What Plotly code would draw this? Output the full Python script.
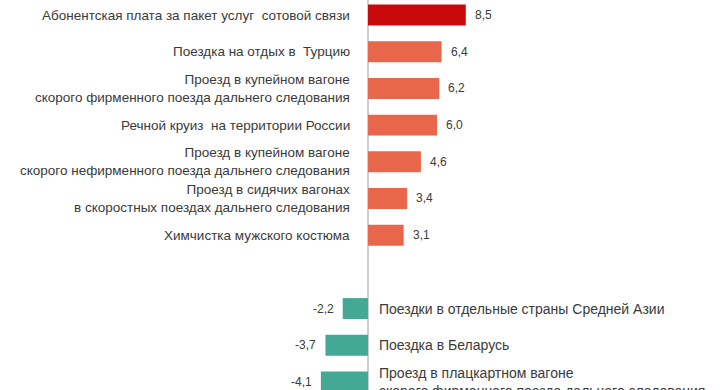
import plotly.graph_objects as go

categories = [
    "Абонентская плата за пакет услуг  сотовой связи",
    "Поездка на отдых в  Турцию",
    "Проезд в купейном вагоне<br>скорого фирменного поезда дальнего следования",
    "Речной круиз  на территории России",
    "Проезд в купейном вагоне<br>скорого нефирменного поезда дальнего следования",
    "Проезд в сидячих вагонах<br>в скоростных поездах дальнего следования",
    "Химчистка мужского костюма",
    " ",
    "Поездки в отдельные страны Средней Азии",
    "Поездка в Беларусь",
    "Проезд в плацкартном вагоне<br>скорого фирменного поезда дальнего следования",
]
values = [8.5, 6.4, 6.2, 6.0, 4.6, 3.4, 3.1, None, -2.2, -3.7, -4.1]

RED = "#C80A0A"
ORANGE = "#E8674A"
TEAL = "#45A894"
TXT = "#3A3A3A"

colors = []
for i, v in enumerate(values):
    if v is None:
        colors.append("rgba(0,0,0,0)")
    elif i == 0:
        colors.append(RED)
    elif v > 0:
        colors.append(ORANGE)
    else:
        colors.append(TEAL)

fig = go.Figure()
fig.add_trace(go.Bar(
    x=values, y=categories, orientation="h",
    marker=dict(color=colors, line=dict(width=0)),
    hoverinfo="skip",
))

annotations = []
for c, v in zip(categories, values):
    if v is None:
        continue
    label = f"{v:.1f}".replace(".", ",")
    if v > 0:
        annotations.append(dict(x=0, y=c, xref="x", yref="y", text=c, showarrow=False,
                                xanchor="right", align="right", xshift=-16,
                                font=dict(size=13.5, color=TXT)))
        annotations.append(dict(x=v, y=c, xref="x", yref="y", text=label, showarrow=False,
                                xanchor="left", xshift=7,
                                font=dict(size=12, color=TXT)))
    else:
        annotations.append(dict(x=0, y=c, xref="x", yref="y", text=c, showarrow=False,
                                xanchor="left", align="left", xshift=9,
                                font=dict(size=14, color=TXT)))
        annotations.append(dict(x=v, y=c, xref="x", yref="y", text=label, showarrow=False,
                                xanchor="right", xshift=-7,
                                font=dict(size=12, color=TXT)))

fig.update_layout(
    width=725, height=390,
    margin=dict(l=0, r=0, t=0, b=0),
    paper_bgcolor="white", plot_bgcolor="white",
    font=dict(family="Liberation Sans, Arial, sans-serif", size=13, color=TXT),
    bargap=0.43,
    showlegend=False,
    annotations=annotations,
    xaxis=dict(range=[-32, 31.04], showgrid=False, showticklabels=False, ticks="",
               zeroline=True, zerolinecolor="#CDCDD5", zerolinewidth=1.5, fixedrange=True),
    yaxis=dict(categoryorder="array", categoryarray=categories, range=[10.22, -0.41],
               showgrid=False, showticklabels=False, ticks="", zeroline=False, fixedrange=True),
)

fig.write_html("out.html", config={"displayModeBar": False},
               post_script="document.body.style.margin='0';document.body.style.overflow='hidden';")
